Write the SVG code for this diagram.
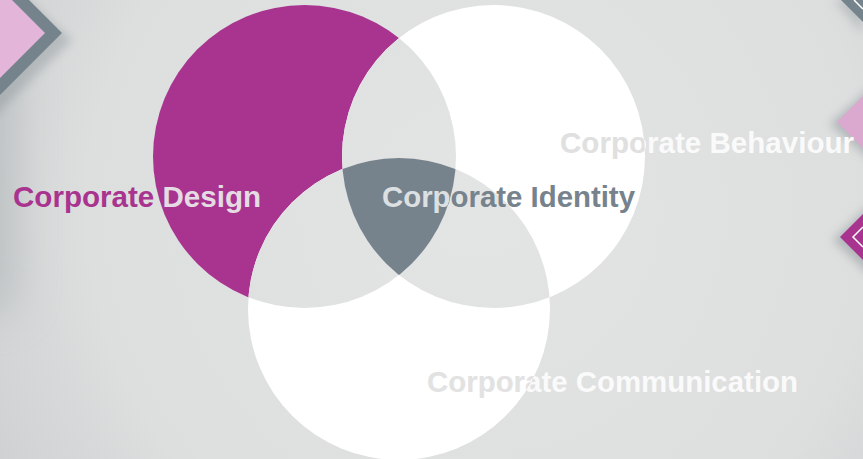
<svg xmlns="http://www.w3.org/2000/svg" width="863" height="459" viewBox="0 0 863 459">
<style>
.lbl{font-family:"Liberation Sans",Arial,sans-serif;font-weight:bold;font-size:30px}
.slate{fill:#76838d}
.mag{fill:#a9348f}
</style>
<defs>
<radialGradient id="bg" gradientUnits="userSpaceOnUse" cx="480" cy="210" r="560">
<stop offset="0" stop-color="#e3e4e4"/>
<stop offset="0.7" stop-color="#dddede"/>
<stop offset="1" stop-color="#cdd0d1"/>
</radialGradient>
<filter id="blur" x="-50%" y="-50%" width="200%" height="200%"><feGaussianBlur stdDeviation="5"/></filter>
<filter id="softblur" x="-100%" y="-100%" width="300%" height="300%"><feGaussianBlur stdDeviation="22"/></filter>
<clipPath id="cA"><circle cx="304.5" cy="156.5" r="151.5"/></clipPath>
<clipPath id="cB"><circle cx="493.5" cy="156.5" r="151.5"/></clipPath>
<clipPath id="cC"><circle cx="399" cy="309" r="151"/></clipPath>
</defs>

<g id="background">
<rect width="863" height="459" fill="url(#bg)"/>
<rect x="-50" y="50" width="65" height="260" fill="#a3aaad" opacity="0.5" filter="url(#softblur)"/>
</g>

<g id="decorations">
<polygon points="-40,-60 72,40 -40,150" fill="#8f979b" opacity="0.45" filter="url(#blur)"/>
<polygon points="-40,-69 62,33 -40,135" fill="#75838c"/>
<polygon points="-40,-52 45,33 -40,118" fill="#e3b6d9"/>
<polygon points="834,0 863,0 863,34" fill="#8f979b" opacity="0.4" filter="url(#blur)"/>
<polygon points="841,0 863,0 863,22" fill="#75838c"/>
<line x1="854" y1="0" x2="863" y2="9" stroke="#ffffff" stroke-width="1.5"/>
<polygon points="830,124 875,84 875,164" fill="#8f979b" opacity="0.55" filter="url(#blur)"/>
<polygon points="837,122 863,96 863,148" fill="#dba8d0"/>
<polygon points="833,240 875,200 875,280" fill="#8f979b" opacity="0.55" filter="url(#blur)"/>
<polygon points="840,237 863,214 863,260" fill="#a9348f"/>
<polyline points="863,227 853,237 863,247" fill="none" stroke="#ffffff" stroke-width="1.5"/>
</g>

<g id="node-design"><circle cx="304.5" cy="156.5" r="151.5" fill="#a9348f"/></g>
<g id="node-behaviour"><circle cx="493.5" cy="156.5" r="151.5" fill="#ffffff"/></g>
<g id="node-communication"><circle cx="399" cy="309" r="151" fill="#ffffff"/></g>

<g id="overlaps">
<g clip-path="url(#cA)">
<circle cx="493.5" cy="156.5" r="151.5" fill="url(#bg)"/>
<circle cx="399" cy="309" r="151" fill="url(#bg)"/>
</g>
<g clip-path="url(#cB)"><circle cx="399" cy="309" r="151" fill="url(#bg)"/></g>
<g id="node-identity" clip-path="url(#cA)"><g clip-path="url(#cB)"><circle cx="399" cy="309" r="151" fill="#76838d"/></g></g>
</g>

<g id="connectors"/>

<g id="labels">
<g id="label-design">
<text class="lbl mag" x="13" y="207" textLength="248" lengthAdjust="spacingAndGlyphs">Corporate Design</text>
<text class="lbl" fill="#e5dbe3" clip-path="url(#cA)" x="13" y="207" textLength="248" lengthAdjust="spacingAndGlyphs">Corporate Design</text>
</g>
<g id="label-identity">
<text class="lbl slate" x="382" y="207" textLength="253" lengthAdjust="spacingAndGlyphs">Corporate Identity</text>
<g clip-path="url(#cA)"><g clip-path="url(#cB)"><text class="lbl" fill="#dde0e2" clip-path="url(#cC)" x="382" y="207" textLength="253" lengthAdjust="spacingAndGlyphs">Corporate Identity</text></g></g>
</g>
<g id="label-behaviour">
<text class="lbl" fill="#fafafa" x="560" y="153" textLength="294" lengthAdjust="spacingAndGlyphs">Corporate Behaviour</text>
<text class="lbl" fill="#e0e0e0" clip-path="url(#cB)" x="560" y="153" textLength="294" lengthAdjust="spacingAndGlyphs">Corporate Behaviour</text>
</g>
<g id="label-communication">
<text class="lbl" fill="#fafafa" x="427" y="392" textLength="371" lengthAdjust="spacingAndGlyphs">Corporate Communication</text>
<text class="lbl" fill="#e2e2e2" clip-path="url(#cC)" x="427" y="392" textLength="371" lengthAdjust="spacingAndGlyphs">Corporate Communication</text>
</g>
</g>
</svg>
